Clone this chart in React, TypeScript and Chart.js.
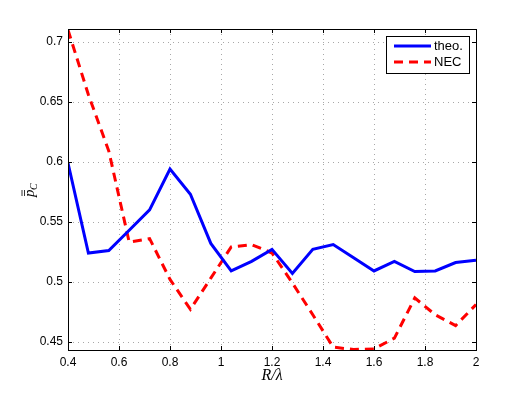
import React, { useEffect, useRef } from "react";
import { Chart, registerables } from "chart.js";

Chart.register(...registerables);

const xValues = [0.4, 0.48, 0.56, 0.64, 0.72, 0.8, 0.88, 0.96, 1.04, 1.12, 1.2, 1.28, 1.36, 1.44, 1.52, 1.6, 1.68, 1.76, 1.84, 1.92, 2.0];
const theoValues = [0.599, 0.524, 0.526, 0.543, 0.56, 0.594, 0.573, 0.532, 0.509, 0.517, 0.527, 0.507, 0.527, 0.531, 0.52, 0.509, 0.517, 0.5085, 0.509, 0.516, 0.518];
const necValues = [0.71, 0.656, 0.609, 0.533, 0.536, 0.502, 0.477, 0.503, 0.529, 0.531, 0.524, 0.499, 0.4725, 0.4455, 0.4435, 0.444, 0.453, 0.4865, 0.4725, 0.4635, 0.481];
const seriesLabels = ["theo.", "NEC"];
const xTicks = [0.4, 0.6, 0.8, 1.0, 1.2, 1.4, 1.6, 1.8, 2.0];
const yTicks = [0.45, 0.5, 0.55, 0.6, 0.65, 0.7];

const fmt = (v: number) => String(+v.toFixed(2));

const decorPlugin = {
  id: "decor",
  beforeDatasetsDraw(chart: any) {
    const { ctx, chartArea: a, scales } = chart;
    const xs = scales.x;
    const ys = scales.y;
    ctx.save();
    ctx.strokeStyle = "#a8a8a8";
    ctx.lineWidth = 1;
    ctx.setLineDash([1, 4]);
    ctx.beginPath();
    xTicks.forEach((t) => {
      const px = Math.round(xs.getPixelForValue(t)) + 0.5;
      ctx.moveTo(px, a.top);
      ctx.lineTo(px, a.bottom);
    });
    yTicks.forEach((t) => {
      const py = Math.round(ys.getPixelForValue(t)) + 0.5;
      ctx.moveTo(a.left, py);
      ctx.lineTo(a.right, py);
    });
    ctx.stroke();
    ctx.restore();
  },
  afterDraw(chart: any) {
    const { ctx, chartArea: a, scales } = chart;
    const xs = scales.x;
    const ys = scales.y;
    ctx.save();
    // inward ticks
    ctx.strokeStyle = "#000";
    ctx.lineWidth = 1;
    ctx.beginPath();
    xTicks.forEach((t) => {
      const px = Math.round(xs.getPixelForValue(t)) + 0.5;
      ctx.moveTo(px, a.bottom);
      ctx.lineTo(px, a.bottom - 4);
      ctx.moveTo(px, a.top);
      ctx.lineTo(px, a.top + 4);
    });
    yTicks.forEach((t) => {
      const py = Math.round(ys.getPixelForValue(t)) + 0.5;
      ctx.moveTo(a.left, py);
      ctx.lineTo(a.left + 4, py);
      ctx.moveTo(a.right, py);
      ctx.lineTo(a.right - 4, py);
    });
    ctx.stroke();
    // frame
    ctx.lineWidth = 1;
    ctx.strokeRect(Math.round(a.left) + 0.5, Math.round(a.top) + 0.5, Math.round(a.right - a.left), Math.round(a.bottom - a.top));

    // legend
    const lx = 386, ly = 36, lw = 83, lh = 37;
    ctx.fillStyle = "#fff";
    ctx.fillRect(lx, ly, lw, lh);
    ctx.strokeStyle = "#000";
    ctx.strokeRect(lx + 0.5, ly + 0.5, lw, lh);
    ctx.lineWidth = 3;
    ctx.strokeStyle = "#0000ff";
    ctx.setLineDash([]);
    ctx.beginPath();
    ctx.moveTo(394, 46);
    ctx.lineTo(431, 46);
    ctx.stroke();
    ctx.strokeStyle = "#ff0000";
    ctx.setLineDash([9, 6]);
    ctx.beginPath();
    ctx.moveTo(394, 62);
    ctx.lineTo(431, 62);
    ctx.stroke();
    ctx.setLineDash([]);
    ctx.fillStyle = "#000";
    ctx.font = "13px 'Liberation Sans', Arial, sans-serif";
    ctx.textBaseline = "middle";
    ctx.textAlign = "left";
    ctx.fillText(seriesLabels[0], 434, 46);
    ctx.fillText(seriesLabels[1], 434, 62);

    // x label
    ctx.font = "italic 16px 'Liberation Serif', 'DejaVu Serif', serif";
    ctx.textAlign = "center";
    ctx.textBaseline = "alphabetic";
    ctx.fillText("R/λ", 272, 380);

    // y label (rotated): p with double bar, subscript C
    ctx.translate(34, 190);
    ctx.rotate(-Math.PI / 2);
    ctx.font = "italic 15px 'Liberation Serif', 'DejaVu Serif', serif";
    ctx.textAlign = "left";
    ctx.fillText("p", -7, 0);
    ctx.font = "italic 10px 'Liberation Serif', 'DejaVu Serif', serif";
    ctx.fillText("C", 0, 3);
    ctx.lineWidth = 0.8;
    ctx.strokeStyle = "#000";
    ctx.beginPath();
    ctx.moveTo(-6, -9.5);
    ctx.lineTo(0, -9.5);
    ctx.moveTo(-6, -12);
    ctx.lineTo(0, -12);
    ctx.stroke();
    ctx.restore();
  },
};

export default function App() {
  const ref = useRef<HTMLCanvasElement | null>(null);
  useEffect(() => {
    if (!ref.current) return;
    const chart = new Chart(ref.current, {
      type: "line",
      data: {
        datasets: [
          {
            label: seriesLabels[0],
            data: xValues.map((x, i) => ({ x, y: theoValues[i] })),
            borderColor: "#0000ff",
            borderWidth: 3,
            pointRadius: 0,
            tension: 0,
          },
          {
            label: seriesLabels[1],
            data: xValues.map((x, i) => ({ x, y: necValues[i] })),
            borderColor: "#ff0000",
            borderWidth: 3,
            borderDash: [9, 6],
            pointRadius: 0,
            tension: 0,
          },
        ],
      },
      options: {
        responsive: false,
        animation: false,
        layout: { padding: { left: 0, right: 49, top: 29, bottom: 0 } },
        plugins: { legend: { display: false }, tooltip: { enabled: false } },
        scales: {
          x: {
            type: "linear",
            min: 0.4,
            max: 2,
            afterFit: (s: any) => {
              s.height = 45;
            },
            afterBuildTicks: (s: any) => {
              s.ticks = xTicks.map((v) => ({ value: v }));
            },
            ticks: {
              padding: 5,
              color: "#000",
              font: { family: "'Liberation Sans', Arial, sans-serif", size: 12 },
              callback: (v: any) => fmt(Number(v)),
              maxRotation: 0,
              autoSkip: false,
            },
            grid: { display: false, drawTicks: false },
            border: { display: false },
          },
          y: {
            type: "linear",
            min: 0.4431,
            max: 0.7108,
            afterFit: (s: any) => {
              s.width = 68;
            },
            afterBuildTicks: (s: any) => {
              s.ticks = yTicks.map((v) => ({ value: v }));
            },
            ticks: {
              padding: 5,
              color: "#000",
              font: { family: "'Liberation Sans', Arial, sans-serif", size: 12 },
              callback: (v: any) => fmt(Number(v)),
              autoSkip: false,
            },
            grid: { display: false, drawTicks: false },
            border: { display: false },
          },
        },
      },
      plugins: [decorPlugin],
    } as any);
    return () => chart.destroy();
  }, []);
  return (
    <div style={{ position: "absolute", left: 0, top: 0, width: 525, height: 395, background: "#fff" }}>
      <canvas ref={ref} width={525} height={395} style={{ width: 525, height: 395 }} />
    </div>
  );
}
